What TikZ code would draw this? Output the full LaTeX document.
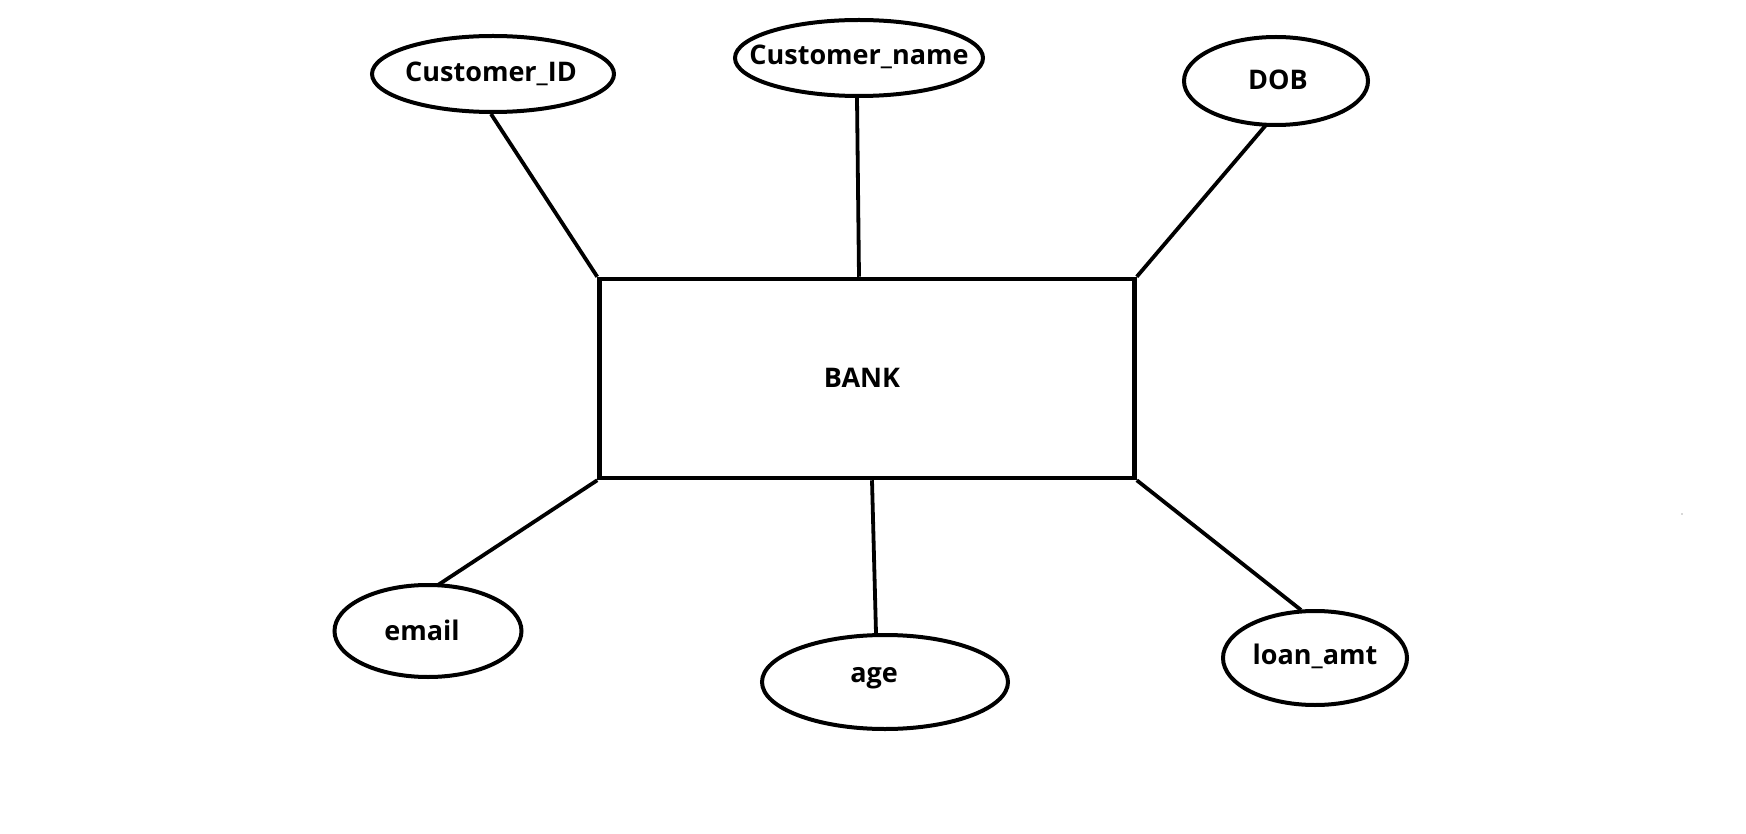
\documentclass[tikz,border=0pt]{standalone}
\usepackage{fontspec}
\setmainfont{Open Sans}
\usetikzlibrary{shapes.geometric}
\begin{document}
\begin{tikzpicture}[x=1pt,y=-1pt,
  attr/.style={draw,ellipse,line width=4pt,inner sep=0pt},
  ent/.style={draw,rectangle,line width=4.5pt,inner sep=0pt},
  lnk/.style={line width=3.8pt},
  lbl/.style={font=\fontsize{27}{30}\selectfont\bfseries}]
\useasboundingbox[fill=white] (0,0) rectangle (1746,834);
\node[ent,minimum width=535pt,minimum height=199pt] (bank) at (867,378.5) {};
\node[lbl] at (862,378) {BANK};
\node[attr,minimum width=242pt,minimum height=76pt] (cid) at (493,74) {};
\node[lbl] at (491,74) {Customer\_ID};
\node[attr,minimum width=248pt,minimum height=76pt] (cname) at (859,58) {};
\node[lbl] at (859,57) {Customer\_name};
\node[attr,minimum width=184pt,minimum height=88pt] (dob) at (1276,81) {};
\node[lbl] at (1278,80) {DOB};
\node[attr,minimum width=187pt,minimum height=92pt] (email) at (428,631) {};
\node[lbl] at (422,630) {email};
\node[attr,minimum width=246pt,minimum height=94pt] (age) at (885,682) {};
\node[lbl] at (874,678) {age};
\node[attr,minimum width=184pt,minimum height=94pt] (loan) at (1315,658) {};
\node[lbl] at (1315,656) {loan\_amt};
\coordinate (dot) at (1682,514);
\fill[gray!60] (dot) circle (0.8pt);
\draw[lnk] (cid.south) ++(-2,0) coordinate (c1) (c1) -- (bank.north west);
\draw[lnk] (cname.south) ++(-2,0) coordinate (n1) (n1) -- ([xshift=2pt]bank.north -| n1);
\draw[lnk] (dob.south) ++(-10,-2) coordinate (d1) (d1) -- (bank.north east);
\draw[lnk] (email.north) ++(10,2) coordinate (e1) (e1) -- (bank.south west);
\draw[lnk] (age.north) ++(-9,0) coordinate (a1) (a1) -- ([xshift=-4pt]bank.south -| a1);
\draw[lnk] (loan.north) ++(-14,1) coordinate (l1) (l1) -- (bank.south east);
\end{tikzpicture}
\end{document}
